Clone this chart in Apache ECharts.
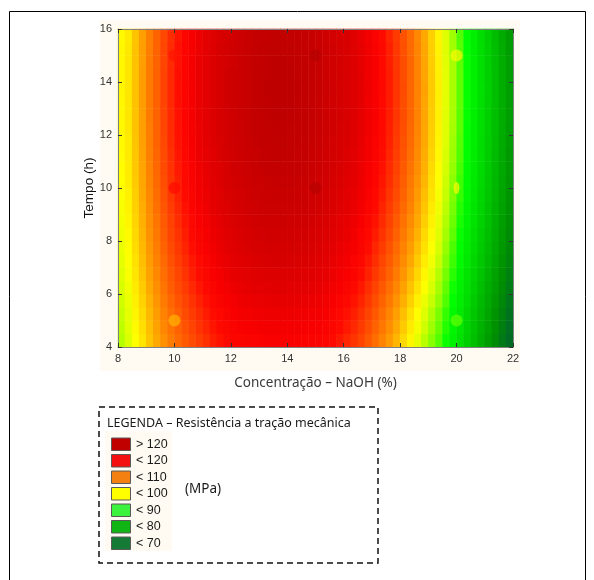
<!DOCTYPE html>
<html>
<head>
<meta charset="utf-8">
<script src="https://cdn.jsdelivr.net/npm/echarts@6/dist/echarts.min.js"></script>
<style>
  html, body { margin: 0; padding: 0; background: #ffffff; }
  #chart { width: 594px; height: 580px; }
</style>
</head>
<body>
<div id="chart"></div>
<script>
// ---- Grid cell centres (category cells of the contour heatmap) ----
const naohCells = ['8.125','8.375','8.625','8.875','9.125','9.375','9.625','9.875',
  '10.125','10.375','10.625','10.875','11.125','11.375','11.625','11.875',
  '12.125','12.375','12.625','12.875','13.125','13.375','13.625','13.875',
  '14.125','14.375','14.625','14.875','15.125','15.375','15.625','15.875',
  '16.125','16.375','16.625','16.875','17.125','17.375','17.625','17.875',
  '18.125','18.375','18.625','18.875','19.125','19.375','19.625','19.875',
  '20.125','20.375','20.625','20.875','21.125','21.375','21.625','21.875'];
const tempoCells = ['4.25','4.75','5.25','5.75','6.25','6.75','7.25','7.75','8.25','8.75','9.25','9.75',
  '10.25','10.75','11.25','11.75','12.25','12.75','13.25','13.75','14.25','14.75','15.25','15.75'];

const res_t4_25 = [96.0,97.3,99.0,100.5,102.2,103.6,105.0,106.3,107.4,108.4,109.3,110.2,111.0,111.9,112.6,113.2,113.9,114.1,114.3,114.5,114.6,114.7,114.7,114.7,114.7,114.6,114.5,114.3,114.1,113.7,113.0,112.3,111.5,110.7,109.8,108.5,107.2,105.9,104.5,102.9,101.2,99.5,97.8,96.1,94.6,93.1,91.3,89.2,87.1,84.9,82.8,80.7,78.6,76.5,74.3,72.2];
const res_t4_75 = [96.3,97.6,99.3,100.9,102.5,104.0,105.5,106.8,107.9,108.9,109.8,110.8,111.6,112.5,113.2,113.8,114.5,114.8,115.0,115.2,115.4,115.5,115.5,115.5,115.5,115.4,115.2,115.0,114.8,114.4,113.7,113.0,112.2,111.4,110.4,109.2,107.9,106.6,105.2,103.6,101.9,100.2,98.5,96.8,95.3,93.7,91.9,89.8,87.7,85.5,83.4,81.3,79.2,77.1,74.9,72.8];
const res_t5_25 = [96.6,97.8,99.6,101.1,102.8,104.3,105.8,107.1,108.2,109.3,110.3,111.2,112.1,112.9,113.6,114.3,115.0,115.3,115.6,115.8,115.9,116.0,116.1,116.1,116.0,115.9,115.8,115.6,115.3,114.9,114.2,113.5,112.7,111.9,111.0,109.8,108.5,107.1,105.7,104.1,102.5,100.8,99.1,97.4,95.8,94.2,92.3,90.2,88.1,86.0,83.8,81.7,79.6,77.5,75.4,73.3];
const res_t5_75 = [96.9,98.1,99.9,101.5,103.2,104.7,106.3,107.6,108.8,109.8,110.8,111.8,112.7,113.6,114.3,115.0,115.6,116.0,116.3,116.6,116.7,116.9,116.9,116.9,116.9,116.8,116.6,116.3,116.0,115.6,114.9,114.2,113.5,112.6,111.7,110.5,109.2,107.8,106.5,104.9,103.3,101.6,99.9,98.1,96.5,94.9,93.0,90.8,88.7,86.6,84.4,82.3,80.3,78.1,76.0,73.9];
const res_t6_25 = [97.2,98.4,100.2,101.8,103.6,105.1,106.7,108.1,109.3,110.3,111.4,112.4,113.3,114.1,114.9,115.6,116.3,116.7,117.0,117.3,117.5,117.6,117.7,117.7,117.6,117.5,117.3,117.0,116.7,116.2,115.6,114.9,114.1,113.3,112.3,111.1,109.9,108.5,107.1,105.6,104.0,102.3,100.6,98.8,97.2,95.5,93.5,91.4,89.3,87.1,85.0,82.9,80.8,78.7,76.6,74.5];
const res_t6_75 = [97.5,98.7,100.5,102.2,104.0,105.5,107.1,108.5,109.7,110.8,111.9,112.9,113.8,114.7,115.4,116.2,116.9,117.3,117.6,118.0,118.2,118.3,118.4,118.4,118.3,118.2,118.0,117.7,117.3,116.9,116.2,115.5,114.7,113.9,112.9,111.8,110.5,109.2,107.8,106.3,104.7,103.0,101.3,99.5,97.8,96.0,94.1,92.0,89.8,87.6,85.5,83.5,81.4,79.3,77.1,75.1];
const res_t7_25 = [97.8,98.9,100.7,102.5,104.3,105.8,107.4,108.9,110.1,111.2,112.3,113.4,114.3,115.2,116.0,116.7,117.4,117.8,118.2,118.6,118.8,119.0,119.1,119.1,119.0,118.9,118.7,118.3,117.9,117.4,116.8,116.1,115.3,114.5,113.5,112.3,111.1,109.7,108.4,106.9,105.3,103.7,101.9,100.1,98.4,96.6,94.6,92.5,90.3,88.1,86.0,83.9,81.9,79.8,77.6,75.6];
const res_t7_75 = [98.0,99.1,101.0,102.7,104.6,106.2,107.8,109.3,110.5,111.7,112.8,113.9,114.8,115.7,116.5,117.2,117.9,118.4,118.8,119.2,119.4,119.6,119.7,119.7,119.6,119.5,119.3,118.9,118.5,117.9,117.3,116.6,115.9,115.1,114.1,112.9,111.6,110.3,108.9,107.4,105.9,104.3,102.5,100.7,98.9,97.1,95.0,92.9,90.8,88.6,86.5,84.4,82.4,80.2,78.1,76.1];
const res_t8_25 = [98.3,99.3,101.2,103.0,104.9,106.5,108.1,109.6,110.9,112.0,113.2,114.3,115.2,116.1,116.9,117.7,118.4,118.8,119.3,119.7,120.0,120.1,120.2,120.2,120.2,120.0,119.8,119.4,119.0,118.4,117.8,117.1,116.4,115.6,114.5,113.4,112.1,110.8,109.5,108.0,106.4,104.8,103.1,101.2,99.4,97.5,95.5,93.4,91.2,89.0,86.9,84.8,82.8,80.7,78.5,76.5];
const res_t8_75 = [98.5,99.5,101.4,103.2,105.1,106.7,108.4,109.9,111.2,112.4,113.5,114.7,115.6,116.5,117.3,118.1,118.8,119.3,119.7,120.2,120.5,120.6,120.7,120.8,120.7,120.5,120.3,119.9,119.4,118.9,118.2,117.5,116.8,116.0,115.0,113.8,112.6,111.3,109.9,108.4,106.9,105.3,103.6,101.7,99.8,97.9,95.9,93.8,91.6,89.4,87.2,85.2,83.2,81.0,78.9,76.9];
const res_t9_25 = [98.7,99.7,101.6,103.4,105.3,107.0,108.7,110.2,111.5,112.7,113.9,115.0,115.9,116.9,117.7,118.5,119.2,119.7,120.2,120.7,120.9,121.1,121.2,121.2,121.2,121.0,120.8,120.3,119.8,119.3,118.7,118.0,117.2,116.4,115.4,114.2,113.0,111.7,110.3,108.9,107.4,105.8,104.0,102.1,100.2,98.3,96.2,94.1,91.9,89.7,87.6,85.6,83.5,81.4,79.3,77.3];
const res_t9_75 = [98.8,99.8,101.7,103.6,105.5,107.2,108.9,110.5,111.8,113.0,114.1,115.3,116.2,117.2,118.0,118.8,119.5,120.0,120.6,121.1,121.3,121.5,121.6,121.7,121.6,121.4,121.2,120.7,120.2,119.6,119.0,118.3,117.6,116.8,115.8,114.6,113.4,112.1,110.7,109.3,107.8,106.2,104.4,102.5,100.6,98.6,96.5,94.4,92.3,90.0,87.9,85.9,83.9,81.7,79.6,77.6];
const res_t10_25 = [99.0,100.0,101.9,103.8,105.7,107.4,109.1,110.7,112.0,113.2,114.4,115.6,116.5,117.5,118.3,119.1,119.8,120.4,120.9,121.4,121.7,121.9,122.0,122.0,122.0,121.8,121.5,121.1,120.5,120.0,119.3,118.6,117.9,117.1,116.1,114.9,113.7,112.4,111.1,109.6,108.1,106.5,104.8,102.9,100.9,98.9,96.8,94.7,92.5,90.3,88.2,86.2,84.1,82.0,79.9,77.9];
const res_t10_75 = [99.1,100.1,102.0,103.9,105.9,107.5,109.3,110.9,112.2,113.4,114.6,115.8,116.8,117.7,118.5,119.4,120.1,120.6,121.2,121.7,122.0,122.2,122.3,122.3,122.3,122.1,121.8,121.4,120.8,120.2,119.6,118.9,118.2,117.4,116.3,115.2,114.0,112.7,111.3,109.9,108.4,106.8,105.1,103.2,101.1,99.2,97.0,95.0,92.8,90.5,88.4,86.4,84.4,82.2,80.1,78.1];
const res_t11_25 = [99.2,100.2,102.1,104.0,106.0,107.7,109.4,111.0,112.4,113.6,114.8,116.0,117.0,117.9,118.8,119.6,120.3,120.8,121.4,121.9,122.2,122.5,122.6,122.6,122.5,122.3,122.1,121.6,121.0,120.4,119.8,119.1,118.4,117.6,116.6,115.4,114.2,112.9,111.6,110.1,108.7,107.1,105.3,103.4,101.4,99.4,97.2,95.2,93.0,90.7,88.6,86.6,84.6,82.4,80.3,78.3];
const res_t11_75 = [99.3,100.2,102.2,104.1,106.1,107.8,109.5,111.2,112.6,113.7,115.0,116.2,117.1,118.1,118.9,119.8,120.5,121.0,121.6,122.2,122.5,122.7,122.8,122.8,122.7,122.6,122.3,121.8,121.2,120.6,120.0,119.3,118.6,117.8,116.8,115.6,114.4,113.1,111.8,110.3,108.9,107.3,105.5,103.6,101.6,99.6,97.4,95.3,93.1,90.9,88.7,86.8,84.8,82.6,80.5,78.5];
const res_t12_25 = [99.4,100.3,102.3,104.2,106.2,107.9,109.6,111.3,112.7,113.9,115.1,116.3,117.3,118.2,119.1,119.9,120.6,121.2,121.8,122.3,122.6,122.9,123.0,123.0,122.9,122.7,122.5,122.0,121.4,120.8,120.2,119.5,118.8,118.0,116.9,115.8,114.6,113.3,111.9,110.5,109.1,107.5,105.7,103.8,101.7,99.7,97.5,95.5,93.3,91.0,88.9,86.9,84.9,82.7,80.6,78.6];
const res_t12_75 = [99.4,100.4,102.3,104.2,106.3,107.9,109.7,111.3,112.7,113.9,115.2,116.4,117.3,118.3,119.2,120.0,120.7,121.3,121.9,122.4,122.7,123.0,123.1,123.1,123.0,122.9,122.6,122.1,121.5,120.9,120.3,119.6,118.9,118.1,117.0,115.9,114.7,113.4,112.0,110.6,109.2,107.6,105.8,103.9,101.8,99.8,97.6,95.6,93.3,91.1,89.0,87.0,85.0,82.8,80.7,78.7];
const res_t13_25 = [99.4,100.4,102.3,104.3,106.3,108.0,109.8,111.4,112.8,114.0,115.2,116.4,117.4,118.3,119.2,120.1,120.8,121.3,121.9,122.5,122.8,123.0,123.2,123.2,123.1,122.9,122.6,122.1,121.5,120.9,120.4,119.7,119.0,118.1,117.1,115.9,114.7,113.4,112.1,110.7,109.2,107.6,105.9,103.9,101.9,99.8,97.7,95.6,93.4,91.1,89.0,87.0,85.0,82.9,80.8,78.8];
const res_t13_75 = [99.5,100.4,102.3,104.3,106.3,108.0,109.8,111.4,112.8,114.0,115.2,116.5,117.4,118.4,119.2,120.1,120.8,121.4,121.9,122.5,122.8,123.1,123.2,123.2,123.1,123.0,122.7,122.2,121.6,121.0,120.4,119.7,119.0,118.2,117.1,116.0,114.8,113.5,112.1,110.7,109.3,107.7,105.9,104.0,101.9,99.9,97.7,95.6,93.4,91.1,89.0,87.1,85.1,82.9,80.8,78.8];
const res_t14_25 = [99.4,100.4,102.3,104.3,106.3,108.0,109.8,111.4,112.8,114.0,115.2,116.4,117.4,118.3,119.2,120.1,120.8,121.3,121.9,122.5,122.8,123.0,123.2,123.2,123.1,122.9,122.6,122.1,121.5,120.9,120.4,119.7,119.0,118.1,117.1,115.9,114.7,113.4,112.1,110.7,109.2,107.6,105.9,103.9,101.9,99.8,97.7,95.6,93.4,91.1,89.0,87.0,85.0,82.9,80.8,78.8];
const res_t14_75 = [99.4,100.4,102.3,104.2,106.3,107.9,109.7,111.3,112.7,113.9,115.2,116.4,117.3,118.3,119.2,120.0,120.7,121.3,121.9,122.4,122.7,123.0,123.1,123.1,123.0,122.9,122.6,122.1,121.5,120.9,120.3,119.6,118.9,118.1,117.0,115.9,114.7,113.4,112.0,110.6,109.2,107.6,105.8,103.9,101.8,99.8,97.6,95.6,93.3,91.1,89.0,87.0,85.0,82.8,80.7,78.7];
const res_t15_25 = [99.4,100.3,102.3,104.2,106.2,107.9,109.6,111.3,112.7,113.9,115.1,116.3,117.3,118.2,119.1,119.9,120.6,121.1,121.7,122.3,122.6,122.8,122.9,122.9,122.9,122.7,122.4,122.0,121.4,120.8,120.2,119.5,118.8,118.0,116.9,115.8,114.6,113.2,111.9,110.5,109.0,107.4,105.7,103.7,101.7,99.7,97.5,95.4,93.2,91.0,88.9,86.9,84.9,82.7,80.6,78.6];
const res_t15_75 = [99.3,100.2,102.2,104.1,106.1,107.8,109.5,111.1,112.5,113.7,114.9,116.1,117.1,118.0,118.9,119.7,120.4,121.0,121.6,122.1,122.4,122.7,122.8,122.8,122.7,122.5,122.3,121.8,121.2,120.6,120.0,119.3,118.6,117.8,116.7,115.6,114.4,113.1,111.7,110.3,108.9,107.3,105.5,103.6,101.6,99.6,97.4,95.3,93.1,90.8,88.7,86.7,84.7,82.6,80.5,78.5];
const resistanceRows = [res_t4_25, res_t4_75, res_t5_25, res_t5_75, res_t6_25, res_t6_75,
  res_t7_25, res_t7_75, res_t8_25, res_t8_75, res_t9_25, res_t9_75,
  res_t10_25, res_t10_75, res_t11_25, res_t11_75, res_t12_25, res_t12_75,
  res_t13_25, res_t13_75, res_t14_25, res_t14_75, res_t15_25, res_t15_75];

// ---- Experimental points (NaOH %, time h, MPa) ----
const pointNaoh  = [10, 10, 10, 15, 15, 20, 20, 20];
const pointTempo = [15, 10, 5, 15, 10, 15, 10, 5];
const pointValue = [112.5, 113, 103, 124.5, 124.5, 99.5, 99.5, 93.5];

// ---- Colour scale (71 .. 125 MPa in steps of 2) ----
const scaleColors = ['#006428','#007020','#008010','#009000','#00a000','#00b000','#00c000','#00d000',
  '#00e000','#00f000','#00ff00','#50ff00','#96ff00','#d4ff00','#ffff00','#ffdc00','#ffb400',
  '#ff9000','#ff7000','#ff5000','#ff3000','#ff0a00','#f80000','#e60000','#d80000','#cc0000',
  '#c00000','#b40000'];

// ---- Legend box ----
const legendLabels = ['> 120', '< 120', '< 110', '< 100', '< 90', '< 80', '< 70'];
const legendColors = ['#c00000', '#f41010', '#f58012', '#ffff00', '#3cf23c', '#10b414', '#157a35'];

const heatData = [];
resistanceRows.forEach(function (row, j) {
  row.forEach(function (v, i) { heatData.push([i, j, v]); });
});
const pointData = pointNaoh.map(function (x, k) { return [x, pointTempo[k], pointValue[k]]; });

const chart = echarts.init(document.getElementById('chart'), null, { renderer: 'canvas' });

const tickFont = { fontFamily: 'Liberation Sans', fontSize: 11, color: '#333333' };
const edgeLine = { show: true, lineStyle: { color: '#808080', width: 1 } };
const inTicks = { show: true, inside: true, length: 4, lineStyle: { color: '#333333', width: 1 } };

const legendChildren = [
  { type: 'rect', shape: { x: 99, y: 407, width: 279, height: 156 },
    style: { fill: 'none', stroke: '#111111', lineWidth: 1.5, lineDash: [6, 4] } },
  { type: 'rect', shape: { x: 105, y: 431, width: 67, height: 120 }, style: { fill: '#fffbf2' } },
  { type: 'text', x: 107, y: 423,
    style: { text: 'LEGENDA – Resistência a tração mecânica', fill: '#1a1a1a',
             font: '12.5px "Noto Sans"', verticalAlign: 'middle' } },
  { type: 'text', x: 185, y: 489,
    style: { text: '(MPa)', fill: '#1a1a1a', font: '13.5px "Noto Sans"', verticalAlign: 'middle' } }
];
legendLabels.forEach(function (lab, k) {
  const top = 438 + k * 16.5;
  legendChildren.push({ type: 'rect', shape: { x: 111.5, y: top, width: 19, height: 12.5 },
    style: { fill: legendColors[k], stroke: '#5a5a5a', lineWidth: 1 } });
  legendChildren.push({ type: 'text', x: 136, y: top + 6.5,
    style: { text: lab, fill: '#1a1a1a', font: '12.5px "Liberation Sans"', verticalAlign: 'middle' } });
});

chart.setOption({
  animation: false,
  backgroundColor: '#ffffff',
  graphic: [
    { type: 'rect', z: -5, shape: { x: 9.5, y: 11.5, width: 576, height: 600 },
      style: { fill: '#ffffff', stroke: '#000000', lineWidth: 1 } },
    { type: 'rect', z: -4, shape: { x: 100, y: 20, width: 420, height: 351 }, style: { fill: '#fffbf2' } },
    { type: 'group', children: legendChildren }
  ],
  grid: { left: 118, top: 29, width: 395, height: 318, containLabel: false },
  xAxis: [
    { type: 'category', data: naohCells, show: false, gridIndex: 0 },
    { type: 'value', min: 8, max: 22, interval: 2, position: 'bottom', gridIndex: 0, z: 5,
      axisLine: edgeLine, axisTick: inTicks, splitLine: { show: false },
      axisLabel: Object.assign({ margin: 6 }, tickFont),
      name: 'Concentração – NaOH (%)', nameLocation: 'middle', nameGap: 29, nameMoveOverlap: false,
      nameTextStyle: { fontFamily: 'Noto Sans', fontSize: 13.5, color: '#3a3a3a' } },
    { type: 'value', min: 8, max: 22, interval: 2, position: 'top', gridIndex: 0, z: 5,
      axisLine: edgeLine, axisTick: inTicks, splitLine: { show: false }, axisLabel: { show: false } }
  ],
  yAxis: [
    { type: 'category', data: tempoCells, show: false, gridIndex: 0 },
    { type: 'value', min: 4, max: 16, interval: 2, position: 'left', gridIndex: 0, z: 5,
      axisLine: edgeLine, axisTick: inTicks, splitLine: { show: false },
      axisLabel: Object.assign({ margin: 6 }, tickFont),
      name: 'Tempo (h)', nameLocation: 'middle', nameGap: 22, nameMoveOverlap: false,
      nameTextStyle: { fontFamily: 'Liberation Sans', fontSize: 13.5, color: '#111111' } },
    { type: 'value', min: 4, max: 16, interval: 2, position: 'right', gridIndex: 0, z: 5,
      axisLine: edgeLine, axisTick: inTicks, splitLine: { show: false }, axisLabel: { show: false } }
  ],
  visualMap: {
    type: 'continuous', show: false, min: 71, max: 125, dimension: 2,
    seriesIndex: [0, 1], inRange: { color: scaleColors }
  },
  series: [
    { type: 'heatmap', xAxisIndex: 0, yAxisIndex: 0, data: heatData,
      emphasis: { disabled: true }, progressive: 0 },
    { type: 'scatter', xAxisIndex: 1, yAxisIndex: 1, data: pointData,
      symbolSize: function (v, p) { return p.dataIndex === 6 ? [6, 12] : 12; },
      itemStyle: { opacity: 0.7 }, emphasis: { disabled: true }, z: 3 }
  ]
});
</script>
</body>
</html>
